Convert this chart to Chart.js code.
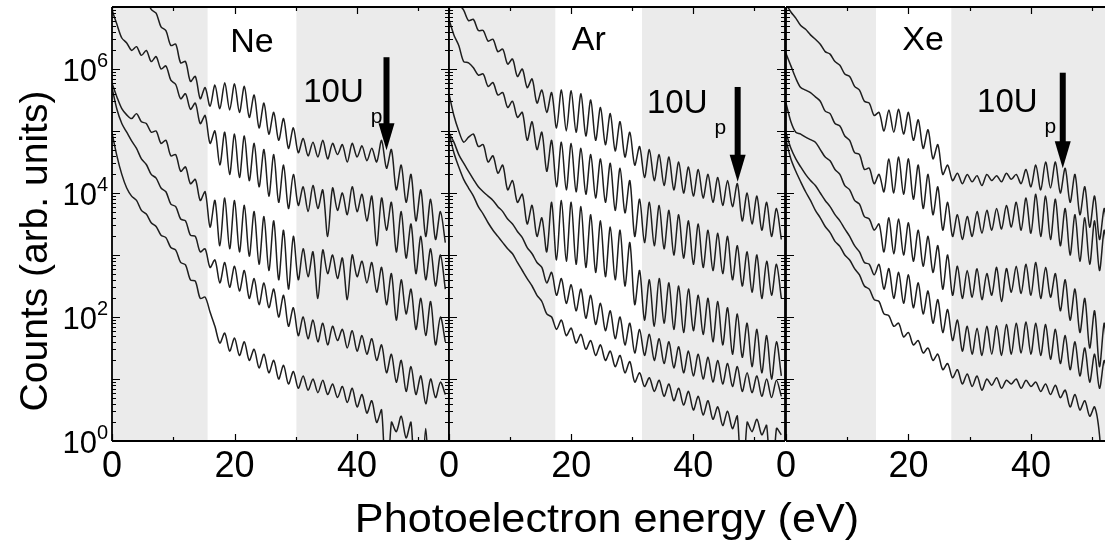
<!DOCTYPE html>
<html>
<head>
<meta charset="utf-8">
<script src="https://cdn.jsdelivr.net/npm/chart.js@4.4.1/dist/chart.umd.min.js"></script>
<style>
html, body { margin: 0; padding: 0; background: #fff; }
#wrap { position: relative; width: 1105px; height: 542px; overflow: hidden; }
#wrap canvas { position: absolute; left: 0; top: 0; }
</style>
</head>
<body>
<div id="wrap">
  <canvas id="ne" width="1105" height="542"></canvas>
  <canvas id="ar" width="1105" height="542"></canvas>
  <canvas id="xe" width="1105" height="542"></canvas>
</div>
<script>
// photoelectron energy grid (eV)
var energies = [0, 0.8, 1.6, 2.4, 3.2, 4, 4.8, 5.6, 6.4, 7.2,
  8, 8.8, 9.6, 10.4, 11.2, 12, 12.8, 13.6, 14.4, 15.2,
  16, 16.8, 17.6, 18.4, 19.2, 20, 20.8, 21.6, 22.4, 23.2,
  24, 24.8, 25.6, 26.4, 27.2, 28, 28.8, 29.6, 30.4, 31.2,
  32, 32.8, 33.6, 34.4, 35.2, 36, 36.8, 37.6, 38.4, 39.2,
  40, 40.8, 41.6, 42.4, 43.2, 44, 44.8, 45.6, 46.4, 47.2,
  48, 48.8, 49.6, 50.4, 51.2, 52, 52.8, 53.6, 54.4];

// counts, given as log10 (decades), top curve first
var neLog1 = [7.70,7.66,7.58,7.55,7.45,7.40,7.25,7.16,6.96,6.90,
  6.68,6.62,6.38,6.40,6.10,6.12,5.80,5.88,5.52,5.70,
  5.40,5.74,5.36,5.78,5.34,5.76,5.30,5.72,5.22,5.58,
  5.05,5.45,4.95,5.30,4.85,5.20,4.72,5.05,4.65,4.88,
  4.60,4.82,4.58,4.85,4.55,4.80,4.62,4.78,4.50,4.80,
  4.58,4.76,4.52,4.72,4.50,4.85,4.40,4.70,4.05,4.45,
  3.85,4.30,3.55,4.05,3.30,3.90,3.25,3.70,3.20];
var neLog2 = [6.95,6.72,6.50,6.42,6.30,6.36,6.22,6.30,6.12,6.20,
  6.00,6.05,5.82,5.75,5.52,5.60,5.35,5.45,5.12,5.25,
  4.80,5.00,4.45,4.98,4.30,4.95,4.25,4.92,4.20,4.80,
  4.10,4.70,3.95,4.62,3.85,4.45,3.75,4.30,3.80,4.10,
  3.70,4.12,3.75,4.05,3.30,4.08,3.72,4.00,3.65,4.10,
  3.70,3.98,3.55,3.95,3.15,3.92,3.40,3.85,3.05,3.70,
  2.95,3.50,2.70,3.30,2.60,3.10,2.50,3.00,2.45];
var neLog3 = [5.77,5.55,5.36,5.26,5.20,5.28,5.15,5.12,4.98,5.00,
  4.80,4.85,4.60,4.62,4.35,4.42,4.15,4.22,3.88,4.02,
  3.45,3.88,3.15,3.92,3.10,3.88,3.05,3.80,2.98,3.70,
  2.85,3.62,2.75,3.55,2.60,3.40,2.45,3.30,2.60,3.10,
  2.65,3.05,2.30,3.08,2.70,3.00,2.62,2.95,2.28,3.00,
  2.65,2.90,2.55,2.88,2.40,2.80,2.20,2.70,1.95,2.60,
  2.05,2.45,1.80,2.30,1.70,2.25,1.55,2.00,1.60];
var neLog4 = [5.70,5.35,5.12,4.98,4.84,4.72,4.55,4.46,4.30,4.24,
  4.08,4.02,3.82,3.78,3.58,3.55,3.32,3.30,3.05,3.10,
  2.80,2.92,2.55,2.88,2.48,2.82,2.42,2.75,2.30,2.62,
  2.20,2.55,2.15,2.45,2.00,2.35,1.85,2.15,1.70,2.00,
  1.65,1.95,1.60,1.90,1.55,1.85,1.62,1.80,1.50,1.78,
  1.45,1.70,1.40,1.65,1.30,1.55,1.10,1.40,0.95,1.30,
  0.80,1.20,0.75,1.05,0.60,1.00,0.70,0.95,0.75];
var neLog5 = [4.97,4.60,4.30,4.08,3.95,3.88,3.72,3.66,3.52,3.46,
  3.32,3.28,3.12,3.08,2.88,2.84,2.60,2.58,2.30,2.32,
  2.08,1.85,1.58,1.74,1.45,1.66,1.38,1.60,1.30,1.48,
  1.18,1.40,1.10,1.30,1.00,1.22,0.92,1.12,0.85,1.05,
  0.82,1.00,0.78,0.98,0.75,0.92,0.70,0.88,0.62,0.85,
  0.55,0.75,0.45,0.65,0.30,0.50,-1,0.30,0.15,0.40,
  0.05,0.30,-1,-1,0.20,-1,-1,-1,-1];

var arLog1 = [7.40,7.22,7.05,6.95,6.78,6.80,6.62,6.62,6.45,6.48,
  6.28,6.32,6.08,6.16,5.88,6.00,5.70,5.84,5.45,5.66,
  5.30,5.62,5.05,5.66,5.00,5.65,4.98,5.60,4.92,5.50,
  4.85,5.38,4.78,5.28,4.68,5.15,4.58,4.98,4.45,4.75,
  4.25,4.70,4.20,4.62,4.12,4.58,4.05,4.50,4.00,4.42,
  3.95,4.38,3.92,4.30,3.85,4.25,3.80,4.20,3.78,4.15,
  3.55,4.00,3.50,3.95,3.40,3.85,3.30,3.75,3.25];
var arLog2 = [6.80,6.55,6.38,6.12,6.10,6.02,5.90,5.92,5.72,5.78,
  5.58,5.62,5.38,5.48,5.22,5.30,4.85,5.15,4.70,4.98,
  4.35,4.85,4.10,4.82,4.05,4.80,4.02,4.72,3.98,4.62,
  3.92,4.55,3.85,4.48,3.72,4.40,3.68,4.20,3.30,3.90,
  3.20,3.85,3.15,3.80,3.10,3.72,3.00,3.65,2.95,3.55,
  2.85,3.50,2.80,3.40,2.75,3.35,2.70,3.30,2.60,3.15,
  2.50,3.05,2.40,3.00,2.30,2.90,2.35,2.85,2.30];
var arLog3 = [5.60,5.25,5.00,4.82,4.90,4.95,4.75,4.78,4.50,4.60,
  4.32,4.45,4.05,4.20,3.85,3.98,3.50,3.80,3.30,3.60,
  3.05,3.85,2.92,3.88,2.90,3.85,2.85,3.78,2.80,3.65,
  2.72,3.55,2.65,3.45,2.60,3.40,2.50,3.20,2.20,2.75,
  1.95,2.60,1.85,2.62,1.90,2.55,1.80,2.50,1.75,2.45,
  1.78,2.35,1.72,2.30,1.60,2.25,1.55,2.15,1.40,2.05,
  1.35,1.90,1.20,1.80,1.10,1.70,1.00,1.60,1.05];
var arLog4 = [4.97,4.82,4.62,4.48,4.35,4.22,4.10,4.02,3.95,3.88,
  3.78,3.70,3.58,3.50,3.38,3.28,3.12,3.02,2.88,2.80,
  2.55,2.72,2.35,2.62,2.22,2.52,2.10,2.45,1.98,2.35,
  1.88,2.22,1.78,2.10,1.65,2.00,1.55,1.90,1.42,1.80,
  1.38,1.72,1.30,1.65,1.25,1.60,1.18,1.52,1.10,1.45,
  1.05,1.40,1.00,1.35,0.95,1.30,0.92,1.25,0.88,1.20,
  0.80,1.10,0.78,1.05,0.72,1.00,0.70,0.98,0.72];
var arLog5 = [4.97,4.65,4.42,4.22,4.08,3.95,3.78,3.66,3.52,3.40,
  3.30,3.20,3.10,3.02,2.88,2.75,2.62,2.50,2.35,2.25,
  2.05,2.00,1.80,1.95,1.70,1.82,1.58,1.72,1.48,1.62,
  1.38,1.55,1.30,1.45,1.20,1.38,1.10,1.28,0.95,1.10,
  0.88,1.02,0.80,0.98,0.72,0.92,0.65,0.85,0.58,0.80,
  0.50,0.72,0.42,0.65,0.35,0.55,0.25,0.48,0.20,0.40,
  -1,0.30,0.15,0.35,0.10,0.25,-1,0.20,0.10];

var xeLog1 = [7.05,6.92,6.82,6.70,6.64,6.55,6.48,6.40,6.28,6.24,
  6.12,6.06,5.92,5.88,5.72,5.66,5.48,5.45,5.25,5.30,
  5.00,5.34,4.98,5.35,4.95,5.30,4.85,5.18,4.72,5.02,
  4.55,4.78,4.30,4.45,4.20,4.32,4.15,4.30,4.18,4.28,
  4.12,4.30,4.20,4.28,4.18,4.32,4.22,4.30,4.15,4.38,
  4.10,4.45,4.05,4.50,4.08,4.50,4.00,4.40,3.85,4.30,
  3.65,4.10,3.45,3.95,3.25,3.75,3.05,3.60,3.00];
var xeLog2 = [6.25,6.05,5.85,5.70,5.66,5.62,5.55,5.48,5.32,5.28,
  5.12,5.08,4.92,4.85,4.65,4.62,4.38,4.40,4.15,4.30,
  4.02,4.55,4.00,4.58,3.98,4.55,3.90,4.45,3.75,4.30,
  3.65,4.10,3.40,3.85,3.30,3.65,3.25,3.62,3.30,3.70,
  3.35,3.72,3.40,3.75,3.42,3.80,3.45,3.85,3.40,3.92,
  3.35,3.98,3.30,3.95,3.25,3.90,3.15,3.75,3.00,3.65,
  2.90,3.60,2.85,3.55,2.75,3.40,2.65,3.20,2.60];
var xeLog3 = [5.45,5.15,4.98,4.95,4.90,4.86,4.82,4.70,4.58,4.52,
  4.38,4.30,4.12,4.05,3.88,3.82,3.62,3.58,3.40,3.50,
  3.05,3.60,3.02,3.58,3.00,3.52,2.90,3.40,2.82,3.30,
  2.72,3.15,2.45,3.00,2.35,2.82,2.30,2.75,2.32,2.78,
  2.28,2.70,2.35,2.80,2.25,2.78,2.40,2.82,2.38,2.85,
  2.35,2.88,2.30,2.80,2.32,2.70,2.10,2.60,1.95,2.45,
  1.75,2.30,1.50,2.10,1.20,1.90,0.95,1.70,0.90];
var xeLog4 = [4.97,4.72,4.55,4.42,4.30,4.20,4.12,4.00,3.88,3.78,
  3.65,3.55,3.42,3.30,3.15,3.05,2.88,2.85,2.68,2.85,
  2.45,2.78,2.30,2.72,2.22,2.68,2.15,2.55,2.05,2.42,
  1.90,2.28,1.75,2.12,1.62,1.95,1.45,1.85,1.40,1.82,
  1.38,1.85,1.40,1.86,1.38,1.88,1.40,1.90,1.42,1.92,
  1.40,1.90,1.38,1.88,1.32,1.80,1.25,1.70,1.15,1.60,
  1.05,1.50,0.95,1.40,0.85,1.30,0.80,1.15,0.75];
var xeLog5 = [4.85,4.55,4.35,4.18,4.02,3.88,3.72,3.60,3.46,3.36,
  3.22,3.14,3.00,2.92,2.78,2.68,2.50,2.45,2.28,2.25,
  2.05,2.02,1.85,1.90,1.68,1.75,1.55,1.62,1.42,1.50,
  1.30,1.40,1.15,1.25,1.02,1.15,0.92,1.08,0.88,1.05,
  0.82,1.00,0.90,1.02,0.85,0.98,0.92,1.00,0.85,0.98,
  0.88,0.95,0.80,0.92,0.75,0.90,0.70,0.82,0.55,0.75,
  0.50,0.65,0.40,0.55,0.10,-1,-1,-1,-1];

var xTickLabels = [0, 20, 40];
var xMinorTicks = [10, 30, 50];
var yLabelDecades = [0, 2, 4, 6];

var FONT = '"Liberation Sans", Arial, Helvetica, sans-serif';

var panels = [
  { id: 'ne', name: 'Ne', curves: [neLog1, neLog2, neLog3, neLog4, neLog5], xmax: 55,
    pad: { left: 112, right: 656 }, white: [15.6, 30.1],
    arrow: { e: 44.8, top: 6.19, tip: 4.69 }, up: { e: 31.2, v: 5.47 }, nameAt: { e: 19.3, v: 6.27 },
    axisText: true, rightFrame: true },
  { id: 'ar', name: 'Ar', curves: [arLog1, arLog2, arLog3, arLog4, arLog5], xmax: 55,
    pad: { left: 449, right: 320 }, white: [17.4, 31.6],
    arrow: { e: 47.25, top: 5.71, tip: 4.18 }, up: { e: 32.4, v: 5.29 }, nameAt: { e: 20.1, v: 6.31 },
    axisText: false, rightFrame: true },
  { id: 'xe', name: 'Xe', curves: [xeLog1, xeLog2, xeLog3, xeLog4, xeLog5], xmax: 52.1,
    pad: { left: 786, right: 0 }, white: [14.7, 27.0],
    arrow: { e: 45.2, top: 5.94, tip: 4.40 }, up: { e: 31.2, v: 5.31 }, nameAt: { e: 19.0, v: 6.31 },
    axisText: false, rightFrame: false }
];

function panelPlugin(cfg) {
  return {
    id: 'panel_' + cfg.id,
    beforeDatasetsDraw: function (chart) {
      var ctx = chart.ctx, a = chart.chartArea, xs = chart.scales.x;
      var x1 = xs.getPixelForValue(cfg.white[0]);
      var x2 = xs.getPixelForValue(cfg.white[1]);
      ctx.save();
      ctx.fillStyle = '#ebebeb';
      ctx.fillRect(a.left, a.top, x1 - a.left, a.bottom - a.top);
      ctx.fillRect(x2, a.top, a.right - x2, a.bottom - a.top);
      ctx.restore();
    },
    afterDatasetsDraw: function (chart) {
      var ctx = chart.ctx, a = chart.chartArea, xs = chart.scales.x, ys = chart.scales.y;
      function yv(v) { return ys.getPixelForValue(Math.pow(10, v)); }
      ctx.save();

      // ticks, pointing inwards
      ctx.strokeStyle = '#000';
      ctx.lineWidth = 1.2;
      ctx.beginPath();
      function xTick(v, len) {
        if (v > cfg.xmax) return;
        var px = Math.round(xs.getPixelForValue(v)) + 0.5;
        ctx.moveTo(px, a.bottom); ctx.lineTo(px, a.bottom - len);
        ctx.moveTo(px, a.top); ctx.lineTo(px, a.top + len);
      }
      xTickLabels.forEach(function (v) { xTick(v, 7); });
      xMinorTicks.forEach(function (v) { xTick(v, 4); });
      function yTick(val, len) {
        var py = Math.round(ys.getPixelForValue(val)) + 0.5;
        ctx.moveTo(a.left, py); ctx.lineTo(a.left + len, py);
        if (cfg.rightFrame) { ctx.moveTo(a.right, py); ctx.lineTo(a.right - len, py); }
      }
      for (var k = 0; k <= 7; k++) {
        yTick(Math.pow(10, k), 8);
        if (k < 7) for (var m = 2; m <= 9; m++) yTick(m * Math.pow(10, k), 4);
      }
      ctx.stroke();

      // frame
      ctx.lineWidth = 1.8;
      ctx.beginPath();
      ctx.moveTo(a.left, a.top); ctx.lineTo(cfg.rightFrame ? a.right : a.right + 2, a.top);
      ctx.moveTo(a.left, a.top); ctx.lineTo(a.left, a.bottom);
      ctx.moveTo(a.left, a.bottom); ctx.lineTo(a.right, a.bottom);
      if (cfg.rightFrame) { ctx.moveTo(a.right, a.top); ctx.lineTo(a.right, a.bottom); }
      ctx.stroke();

      // 10 Up arrow
      var ax = xs.getPixelForValue(cfg.arrow.e);
      var at = yv(cfg.arrow.top), ab = yv(cfg.arrow.tip);
      ctx.fillStyle = '#000';
      ctx.fillRect(ax - 3, at, 6, ab - at - 24);
      ctx.beginPath();
      ctx.moveTo(ax - 8, ab - 27);
      ctx.lineTo(ax + 8, ab - 27);
      ctx.lineTo(ax, ab);
      ctx.closePath();
      ctx.fill();

      // labels
      ctx.textAlign = 'left';
      ctx.textBaseline = 'alphabetic';
      ctx.font = '34px ' + FONT;
      ctx.fillText(cfg.name, xs.getPixelForValue(cfg.nameAt.e), yv(cfg.nameAt.v));
      var ux = xs.getPixelForValue(cfg.up.e), uy = yv(cfg.up.v);
      ctx.font = '33px ' + FONT;
      ctx.fillText('10U', ux, uy);
      var w = ctx.measureText('10U').width;
      ctx.font = '21px ' + FONT;
      ctx.fillText('p', ux + w + 7, uy + 21);

      if (cfg.axisText) {
        yLabelDecades.forEach(function (d) {
          var py = ys.getPixelForValue(Math.pow(10, d));
          ctx.font = '31px ' + FONT;
          ctx.textAlign = 'right';
          ctx.fillText('10', 97, py + 12);
          ctx.font = '20px ' + FONT;
          ctx.textAlign = 'left';
          ctx.fillText(String(d), 97, py - 2);
        });
        ctx.textAlign = 'center';
        ctx.save();
        ctx.translate(607, 532);
        ctx.scale(1.08, 1);
        ctx.font = '40px ' + FONT;
        ctx.fillText('Photoelectron energy (eV)', 0, 0);
        ctx.restore();
        ctx.save();
        ctx.translate(47, 251);
        ctx.rotate(-Math.PI / 2);
        ctx.font = '39px ' + FONT;
        ctx.fillText('Counts (arb. units)', 0, 0);
        ctx.restore();
      }
      ctx.restore();
    }
  };
}

panels.forEach(function (cfg) {
  var datasets = cfg.curves.map(function (c) {
    return {
      data: energies.map(function (e, i) { return { x: e, y: Math.pow(10, c[i]) }; }),
      borderColor: '#1e1e1e',
      borderWidth: 1.5,
      pointRadius: 0,
      fill: false,
      tension: 0.3
    };
  });
  new Chart(document.getElementById(cfg.id).getContext('2d'), {
    type: 'line',
    data: { datasets: datasets },
    options: {
      responsive: false,
      animation: false,
      events: [],
      layout: { padding: { left: cfg.pad.left, right: cfg.pad.right, top: 7, bottom: 0 } },
      plugins: { legend: { display: false }, tooltip: { enabled: false } },
      scales: {
        x: {
          type: 'linear', min: 0, max: cfg.xmax,
          grid: { display: false, drawTicks: false },
          border: { display: false },
          ticks: { color: '#000', padding: 4, maxRotation: 0, autoSkip: false, font: { size: 36, family: FONT } },
          afterBuildTicks: function (s) { s.ticks = xTickLabels.map(function (v) { return { value: v }; }); },
          afterFit: function (s) { s.height = 101; }
        },
        y: { type: 'logarithmic', min: 1, max: 1e7, display: false }
      }
    },
    plugins: [panelPlugin(cfg)]
  });
});
</script>
</body>
</html>
